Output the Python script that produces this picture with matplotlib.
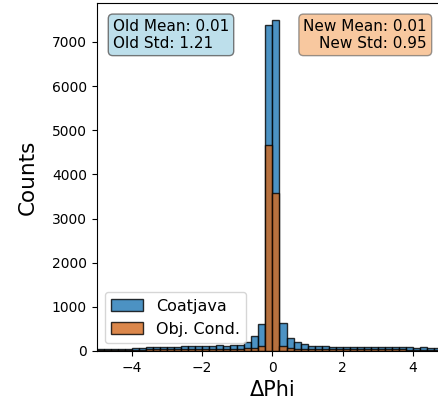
import numpy as np
import matplotlib
matplotlib.use("Agg")
import matplotlib.pyplot as plt

# Histogram binning for Delta Phi
bin_edges = np.linspace(-5, 5, 51)

# Counts per bin (50 bins of width 0.2 from -5 to 5)
coatjava_counts = [
    40, 45, 45, 50, 55, 70, 75, 80, 85, 95,
    100, 95, 105, 110, 110, 120, 115, 125, 120, 130,
    135, 205, 330, 612, 7390, 7505, 643, 300, 212, 160,
    121, 110, 105, 100, 100, 95, 100, 95, 90, 95,
    90, 85, 90, 95, 80, 75, 80, 60, 65, 60,
]
objcond_counts = [
    20, 22, 22, 25, 25, 30, 32, 35, 35, 40,
    40, 40, 42, 45, 45, 48, 48, 50, 50, 52,
    55, 60, 70, 110, 4670, 3583, 115, 65, 55, 50,
    48, 45, 45, 42, 42, 40, 40, 38, 38, 38,
    35, 35, 35, 35, 32, 30, 30, 28, 28, 25,
]

old_mean, old_std = 0.01, 1.21
new_mean, new_std = 0.01, 0.95

fig = plt.figure(figsize=(4.38, 4.05), dpi=100)
ax = fig.add_axes([96.7 / 438, 54 / 405, 351.5 / 438, 348 / 405])

centers = 0.5 * (bin_edges[:-1] + bin_edges[1:])
ax.hist(centers, bins=bin_edges, weights=coatjava_counts, alpha=0.8,
        color="tab:blue", edgecolor="black", label="Coatjava")
ax.hist(centers, bins=bin_edges, weights=objcond_counts, alpha=0.8,
        color="chocolate", edgecolor="black", label="Obj. Cond.")

ax.set_xlim(-5, 5)
ax.set_xlabel("\u0394Phi", fontsize=15)
ax.set_ylabel("Counts", fontsize=15.5, labelpad=10)
ax.tick_params(labelsize=10)

ax.text(0.046, 0.955, f"Old Mean: {old_mean:.2f}\nOld Std: {old_std:.2f}",
        transform=ax.transAxes, fontsize=11, va="top", ha="left",
        bbox=dict(boxstyle="round", facecolor="lightblue", edgecolor="0.35",
                  alpha=0.8))
ax.text(0.94, 0.955, f"New Mean: {new_mean:.2f}\nNew Std: {new_std:.2f}",
        transform=ax.transAxes, fontsize=11, va="top", ha="right",
        multialignment="right",
        bbox=dict(boxstyle="round", facecolor="sandybrown", edgecolor="0.35",
                  alpha=0.6))

ax.legend(loc="lower left", fontsize=11.5)

fig.savefig("out.png", dpi=100)
